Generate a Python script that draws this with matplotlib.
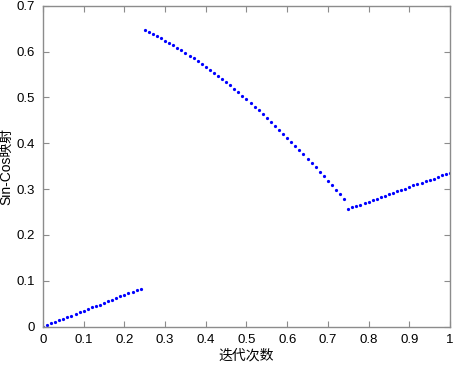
import numpy as np
import matplotlib
matplotlib.use("Agg")
import matplotlib.pyplot as plt

# iteration grid, step 0.01 from 0 to 1
iters = np.arange(101) / 100.0

# Sin-Cos map values
seg1 = [0.000, 0.003, 0.007, 0.010, 0.014, 0.017, 0.021, 0.024, 0.028, 0.031,
        0.035, 0.038, 0.042, 0.045, 0.048, 0.052, 0.055, 0.059, 0.062, 0.066,
        0.069, 0.073, 0.076, 0.080, 0.083]
seg2 = [0.647, 0.642, 0.638, 0.633, 0.629, 0.624, 0.619, 0.614, 0.608, 0.603,
        0.597, 0.591, 0.585, 0.579, 0.573, 0.566, 0.560, 0.554, 0.547, 0.540,
        0.533, 0.526, 0.518, 0.511, 0.503, 0.496, 0.487, 0.480, 0.472, 0.463,
        0.455, 0.446, 0.438, 0.430, 0.421, 0.412, 0.403, 0.394, 0.385, 0.376,
        0.366, 0.357, 0.348, 0.338, 0.329, 0.318, 0.308, 0.299, 0.289, 0.279]
seg3 = [0.257, 0.260, 0.263, 0.266, 0.270, 0.273, 0.276, 0.279, 0.282, 0.285,
        0.289, 0.292, 0.295, 0.298, 0.301, 0.304, 0.308, 0.311, 0.314, 0.317,
        0.320, 0.323, 0.327, 0.330, 0.333, 0.336]
values = seg1 + seg2 + seg3

x_ticks = [0, 0.1, 0.2, 0.3, 0.4, 0.5, 0.6, 0.7, 0.8, 0.9, 1]
y_ticks = [0, 0.1, 0.2, 0.3, 0.4, 0.5, 0.6, 0.7]

plt.rcParams['font.family'] = ['Liberation Sans', 'Noto Sans CJK SC']

fig = plt.figure(figsize=(4.53, 3.66), dpi=100)
ax = fig.add_axes([0.0949, 0.1074, 0.8985, 0.877])

ax.plot(iters, values, '.', color='#0000ff', markersize=2.6)

ax.set_xlim(0, 1)
ax.set_ylim(0, 0.7)
ax.set_xticks(x_ticks)
ax.set_xticklabels(['0', '0.1', '0.2', '0.3', '0.4', '0.5', '0.6', '0.7', '0.8', '0.9', '1'])
ax.set_yticks(y_ticks)
ax.set_yticklabels(['0', '0.1', '0.2', '0.3', '0.4', '0.5', '0.6', '0.7'])

gray = '#8c8c8c'
for s in ax.spines.values():
    s.set_color(gray)
    s.set_linewidth(1.0)
ax.tick_params(direction='in', length=4, width=0.8, color=gray,
               top=True, right=True, labelsize=9.5, labelcolor='black')
ax.tick_params(axis='x', pad=5)
ax.tick_params(axis='y', pad=6)

ax.set_xlabel('迭代次数', fontsize=10, labelpad=2)
ax.set_ylabel('Sin-Cos映射', fontsize=10, labelpad=2)

fig.savefig('out.png', dpi=100)
